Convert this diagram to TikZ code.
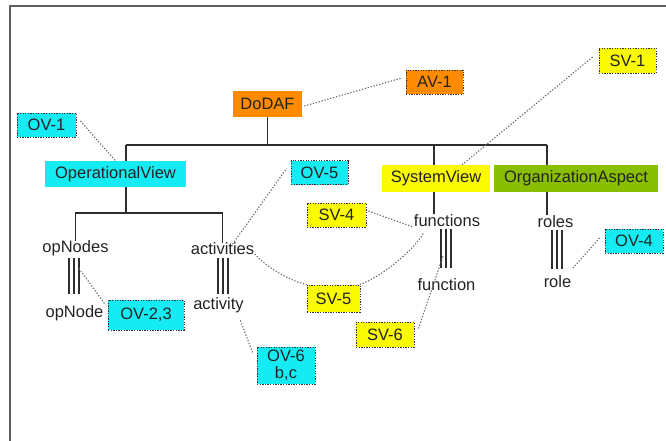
\documentclass[tikz,border=0pt]{standalone}
\usepackage{fontspec}
\setmainfont{Liberation Sans}
\usetikzlibrary{backgrounds}
\definecolor{cyanfill}{RGB}{20,235,242}
\definecolor{yellowfill}{RGB}{250,250,0}
\definecolor{orangefill}{RGB}{255,140,0}
\definecolor{greenfill}{RGB}{138,190,0}
\definecolor{txt}{RGB}{35,35,35}
\definecolor{treec}{RGB}{45,45,45}
\definecolor{dotc}{RGB}{105,105,105}
\definecolor{bord}{RGB}{50,50,50}
\definecolor{framec}{RGB}{95,95,95}
\tikzset{
  lbl/.style={inner sep=0pt, text=txt, font=\fontsize{16.5}{18}\selectfont},
  viewbox/.style={lbl},
  tag/.style={lbl, draw=bord, line width=0.9pt, dash pattern=on 1.3pt off 1.3pt},
  word/.style={lbl, inner sep=0.5pt},
  tree/.style={draw=treec, line width=1.1pt},
  note/.style={draw=dotc, line width=1.1pt, dash pattern=on 1.3pt off 1.7pt},
  frameline/.style={draw=framec, line width=1.4pt},
}
\begin{document}
\begin{tikzpicture}[x=1pt,y=-1pt]
\useasboundingbox (0,0) rectangle (666,440);
% outer frame
\draw[frameline] (10,441) -- (10,6) -- (667,6);

% branching points of the tree
\coordinate (busL) at (126,145);
\coordinate (busR) at (547,145);
\coordinate (opbranch) at (126,213);
\coordinate (sysbranch) at (434,145);

% view boxes
\node[viewbox, fill=orangefill, minimum width=69pt, minimum height=26pt] (dodaf) at (267.5,104) {DoDAF};
\node[viewbox, fill=cyanfill, minimum width=141pt, minimum height=26pt] (opview) at (115.5,174) {OperationalView};
\node[viewbox, fill=yellowfill, minimum width=108pt, minimum height=27pt] (sysview) at (436,178.5) {SystemView};
\node[viewbox, fill=greenfill, minimum width=164pt, minimum height=27pt] (orgasp) at (576,178.5) {OrganizationAspect};

% element names
\node[word] (opnodes) at (75.5,248) {opNodes};
\node[word] (activities) at (222.5,249) {activities};
\node[word] (functions) at (447,221) {functions};
\node[word] (roles) at (555.5,222) {roles};
\node[word] (opnode) at (74.5,313) {opNode};
\node[word] (activity) at (218.5,305) {activity};
\node[word] (function) at (446.5,285) {function};
\node[word] (role) at (557.5,282) {role};

% tree lines, kept behind the boxes
\begin{scope}[on background layer]
  \draw[tree] (dodaf.south) -- (dodaf.south |- busL);
  \draw[tree] (busL) -- (busR);
  \draw[tree] (busL) -- (opbranch);
  \draw[tree] ([yshift=-1pt]opnodes.north) |- (opbranch) -| ([yshift=-1pt]activities.north);
  \draw[tree] (sysbranch) -- (sysbranch |- functions.north);
  \draw[tree] (busR) -- (busR |- roles.north);
  % one-to-many links
  \foreach \d in {-5,0,5} {
    \draw[tree] ([xshift=\d pt-1.5pt,yshift=-2pt]opnodes.south) -- ([xshift=\d pt-1.5pt,yshift=10.5pt]opnodes.south |- opnode.north);
    \draw[tree] ([xshift=\d pt+0.5pt,yshift=-2pt]activities.south) -- ([xshift=\d pt+0.5pt,yshift=2.5pt]activities.south |- activity.north);
    \draw[tree] ([xshift=\d pt-1pt,yshift=-1pt]functions.south) -- ([xshift=\d pt-1pt,yshift=10pt]functions.south |- function.north);
    \draw[tree] ([xshift=\d pt+1.5pt,yshift=-1pt]roles.south) -- ([xshift=\d pt+1.5pt,yshift=6pt]roles.south |- role.north);
  }
\end{scope}

% product tags
\node[tag, fill=orangefill, minimum width=57pt, minimum height=24pt] (av1) at (434.5,82) {AV-1};
\node[tag, fill=yellowfill, minimum width=57pt, minimum height=25pt] (sv1) at (627.5,60.5) {SV-1};
\node[tag, fill=cyanfill, minimum width=59pt, minimum height=24pt] (ov1) at (46.5,125) {OV-1};
\node[tag, fill=cyanfill, minimum width=57pt, minimum height=24pt] (ov5) at (319.5,172.5) {OV-5};
\node[tag, fill=yellowfill, minimum width=59pt, minimum height=24pt] (sv4) at (336.5,215) {SV-4};
\node[tag, fill=yellowfill, minimum width=53pt, minimum height=27pt] (sv5) at (333.5,298.5) {SV-5};
\node[tag, fill=yellowfill, minimum width=58pt, minimum height=25pt] (sv6) at (385,334.5) {SV-6};
\node[tag, fill=cyanfill, minimum width=76pt, minimum height=30pt] (ov23) at (146,315) {OV-2,3};
\node[tag, fill=cyanfill, minimum width=58pt, minimum height=37pt, align=center,
      font=\fontsize{16.5}{17.5}\selectfont] (ov6) at (286,365.5) {OV-6\\b,c};
\node[tag, fill=cyanfill, minimum width=58pt, minimum height=24pt] (ov4) at (634,241) {OV-4};

% dotted annotations linking products to the model
\draw[note] ([xshift=4pt,yshift=4pt]ov1.east) -- (opview.north);
\draw[note] ([xshift=2pt,yshift=-2pt]dodaf.east) -- ([xshift=-4pt,yshift=4pt]av1.west);
\draw[note] ([xshift=-6pt,yshift=3.5pt]sv1.west) -- ([xshift=26pt]sysview.north);
\draw[note] ([xshift=10pt,yshift=-2pt]activities.north) -- ([xshift=-4pt,yshift=4pt]ov5.west);
\draw[note] ([yshift=-5pt]activities.east) .. controls ([xshift=10pt,yshift=-17pt]activities.east) and ([xshift=-18pt,yshift=4pt]sv5.north west) .. (sv5.north west);
\draw[note] ([xshift=10pt,yshift=-6pt]functions.south west) .. controls ([xshift=-3pt,yshift=-26pt]functions.south west) and ([xshift=18pt,yshift=6pt]sv5.north east) .. ([xshift=-1pt]sv5.north east);
\draw[note] ([xshift=2pt,yshift=4pt]sv4.east) -- ([yshift=-6pt]functions.west);
\draw[note] ([xshift=3.5pt,yshift=-12pt]opnodes.south) -- ([xshift=-2pt,yshift=10pt]ov23.west);
\draw[note] ([xshift=-4pt,yshift=-7pt]activity.south east) -- ([xshift=-4pt,yshift=-6pt]ov6.north west);
\draw[note] ([xshift=4pt,yshift=6pt]sv6.east) -- ([xshift=-3.5pt,yshift=22pt]function.north);
\draw[note] ([xshift=-5pt,yshift=3pt]ov4.west) -- ([xshift=1pt,yshift=14pt]role.east);
\end{tikzpicture}
\end{document}
